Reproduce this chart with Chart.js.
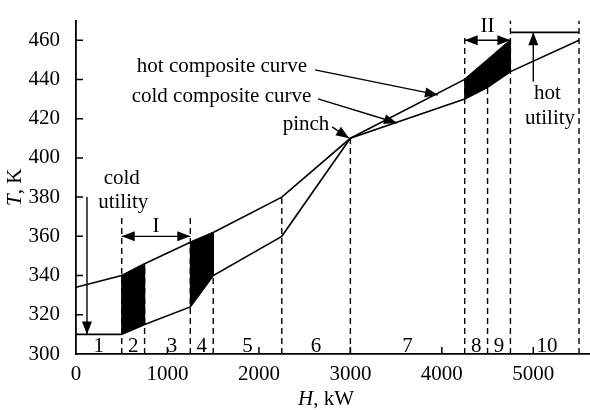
<!DOCTYPE html>
<html>
<head>
<meta charset="utf-8">
<script src="https://cdn.jsdelivr.net/npm/chart.js@4"></script>
<style>
  html, body { margin: 0; padding: 0; background: #fff; }
  #wrap { width: 590px; height: 410px; }
</style>
</head>
<body>
<div id="wrap"><canvas id="myChart"></canvas></div>
<script>
// hot and cold composite curves (H in kW, T in K)
const hotH = [0, 500, 750, 1250, 1500, 2250, 3000, 4250, 4500, 4750];
const hotT = [334, 340, 346, 357, 362, 380, 410, 440, 450, 460];
const coldH = [500, 750, 1250, 1500, 2250, 3000, 4250, 4500, 4750, 5500];
const coldT = [310, 315, 324, 340, 360, 410, 430, 436, 444, 460];

// utilities
const coldUtilityH = [0, 500];
const coldUtilityT = 310;
const hotUtilityH = [4750, 5500];
const hotUtilityT = 464;

// interval boundaries (dashed) and how high each dashed line reaches
const boundaryH = [500, 750, 1250, 1500, 2250, 3000, 4250, 4500, 4750, 5500];
const boundaryTop = [370, 346, 370, 362, 380, 410, 463, 450, 470, 470];

// shaded zones I and II
const shadedZones = [[500, 750], [1250, 1500], [4250, 4750]];

// interval numbers
const intervalLabels = ["1", "2", "3", "4", "5", "6", "7", "8", "9", "10"];
const intervalLabelH = [250, 625, 1050, 1375, 1875, 2625, 3625, 4375, 4625, 5150];

const xTicks = [0, 1000, 2000, 3000, 4000, 5000];
const yTicks = [300, 320, 340, 360, 380, 400, 420, 440, 460];

const serif = "'Liberation Serif', 'Times New Roman', serif";

const pts = (hs, ts) => hs.map((h, i) => ({ x: h, y: Array.isArray(ts) ? ts[i] : ts }));

const datasets = [];

// black zones, polygon from hot points then cold points reversed
shadedZones.forEach(([a, b]) => {
   const top = pts(hotH, hotT).filter((p) => p.x >= a && p.x <= b);
   const bot = pts(coldH, coldT).filter((p) => p.x >= a && p.x <= b).reverse();
   const poly = top.concat(bot);
   poly.push(top[0]);
   datasets.push({
      data: poly,
      showLine: true,
      fill: "shape",
      backgroundColor: "#000",
      borderColor: "#000",
      borderWidth: 1,
      pointRadius: 0,
      order: 3,
   });
});

// dashed interval lines
boundaryH.forEach((h, i) => {
   datasets.push({
      data: [{ x: h, y: 300 }, { x: h, y: boundaryTop[i] }],
      showLine: true,
      borderColor: "#000",
      borderWidth: 1.4,
      borderDash: [6, 4],
      pointRadius: 0,
      order: 2,
   });
});

datasets.push({
   label: "hot composite curve",
   data: pts(hotH, hotT),
   showLine: true,
   borderColor: "#000",
   borderWidth: 1.6,
   pointRadius: 0,
   order: 1,
});
datasets.push({
   label: "cold composite curve",
   data: pts(coldH, coldT),
   showLine: true,
   borderColor: "#000",
   borderWidth: 1.6,
   pointRadius: 0,
   order: 1,
});
datasets.push({
   label: "cold utility",
   data: pts(coldUtilityH, coldUtilityT),
   showLine: true,
   borderColor: "#000",
   borderWidth: 1.6,
   pointRadius: 0,
   order: 1,
});
datasets.push({
   label: "hot utility",
   data: pts(hotUtilityH, hotUtilityT),
   showLine: true,
   borderColor: "#000",
   borderWidth: 1.6,
   pointRadius: 0,
   order: 1,
});

function arrowHead(ctx, x1, y1, x2, y2) {
   const ang = Math.atan2(y2 - y1, x2 - x1);
   const len = 13, half = 5;
   ctx.beginPath();
   ctx.moveTo(x2, y2);
   ctx.lineTo(x2 - len * Math.cos(ang) + half * Math.sin(ang), y2 - len * Math.sin(ang) - half * Math.cos(ang));
   ctx.lineTo(x2 - len * Math.cos(ang) - half * Math.sin(ang), y2 - len * Math.sin(ang) + half * Math.cos(ang));
   ctx.closePath();
   ctx.fill();
}

const annotations = {
   id: "annotations",
   afterDraw(chart) {
      const ctx = chart.ctx;
      const xs = chart.scales.x, ys = chart.scales.y;
      const X = (h) => xs.getPixelForValue(h);
      const Y = (t) => ys.getPixelForValue(t);
      const area = chart.chartArea;
      ctx.save();
      ctx.fillStyle = "#000";
      ctx.strokeStyle = "#000";

      // inward ticks
      ctx.lineWidth = 1.5;
      ctx.beginPath();
      xTicks.slice(1).forEach((v) => { ctx.moveTo(X(v), area.bottom); ctx.lineTo(X(v), area.bottom - 7); });
      yTicks.slice(1).forEach((v) => { ctx.moveTo(area.left, Y(v)); ctx.lineTo(area.left + 7, Y(v)); });
      ctx.stroke();

      const line = (h1, t1, h2, t2, both) => {
         const x1 = X(h1), y1 = Y(t1), x2 = X(h2), y2 = Y(t2);
         ctx.lineWidth = 1.4;
         ctx.beginPath();
         ctx.moveTo(x1, y1);
         ctx.lineTo(x2, y2);
         ctx.stroke();
         arrowHead(ctx, x1, y1, x2, y2);
         if (both) arrowHead(ctx, x2, y2, x1, y1);
      };
      line(2613, 444.9, 3958, 432.1);   // hot composite curve
      line(2646, 430.1, 3510, 417.8);   // cold composite curve
      line(2800, 415.8, 2985, 410);     // pinch
      line(120, 380, 120, 310);         // cold utility
      line(5000, 439, 5000, 464);       // hot utility
      line(500, 360, 1250, 360, true);  // I
      line(4250, 460, 4750, 460, true); // II

      ctx.font = "21px " + serif;
      ctx.textAlign = "center";
      ctx.textBaseline = "middle";
      const txt = (s, h, t) => ctx.fillText(s, X(h), Y(t));
      txt("hot composite curve", 1596, 446.4);
      txt("cold composite curve", 1591, 431.1);
      txt("pinch", 2515, 416.8);
      txt("cold", 500, 389.7);
      txt("utility", 517, 377.4);
      txt("hot", 5155, 432.6);
      txt("utility", 5183, 420.3);
      txt("I", 875, 365);
      txt("II", 4500, 467);

      // interval numbers
      ctx.font = "21px " + serif;
      ctx.textBaseline = "alphabetic";
      intervalLabels.forEach((s, i) => ctx.fillText(s, X(intervalLabelH[i]), area.bottom - 2));

      // axis titles
      ctx.textBaseline = "middle";
      const drawMixed = (parts, cx, cy) => {
         let w = 0;
         parts.forEach((p) => { ctx.font = (p[1] ? "italic " : "") + "21px " + serif; w += ctx.measureText(p[0]).width; });
         let x = cx - w / 2;
         ctx.textAlign = "left";
         parts.forEach((p) => {
            ctx.font = (p[1] ? "italic " : "") + "21px " + serif;
            ctx.fillText(p[0], x, cy);
            x += ctx.measureText(p[0]).width;
         });
      };
      drawMixed([["H", true], [", kW", false]], (area.left + 576) / 2, 399);
      ctx.save();
      ctx.translate(15, (area.top + area.bottom) / 2);
      ctx.rotate(-Math.PI / 2);
      drawMixed([["T", true], [", K", false]], 0, 0);
      ctx.restore();

      ctx.restore();
   },
};

new Chart(document.getElementById("myChart"), {
   type: "scatter",
   data: { datasets },
   options: {
      responsive: true,
      maintainAspectRatio: false,
      animation: false,
      layout: { padding: { top: 9, right: 0, bottom: 0, left: 0 } },
      plugins: { legend: { display: false }, tooltip: { enabled: false } },
      scales: {
         x: {
            type: "linear",
            min: 0,
            max: 5620,
            afterFit: (s) => { s.height = 56; },
            afterBuildTicks: (s) => { s.ticks = xTicks.map((v) => ({ value: v })); },
            grid: { display: false },
            border: { color: "#000", width: 1.8 },
            ticks: { color: "#000", padding: 0, maxRotation: 0, font: { family: serif, size: 21 }, callback: (v) => String(v) },
         },
         y: {
            type: "linear",
            min: 300,
            max: 470,
            afterFit: (s) => { s.width = 76; },
            afterBuildTicks: (s) => { s.ticks = yTicks.map((v) => ({ value: v })); },
            grid: { display: false },
            border: { color: "#000", width: 1.8 },
            ticks: { color: "#000", padding: 8, font: { family: serif, size: 21 }, callback: (v) => String(v) },
         },
      },
   },
   plugins: [annotations],
});
</script>
</body>
</html>
